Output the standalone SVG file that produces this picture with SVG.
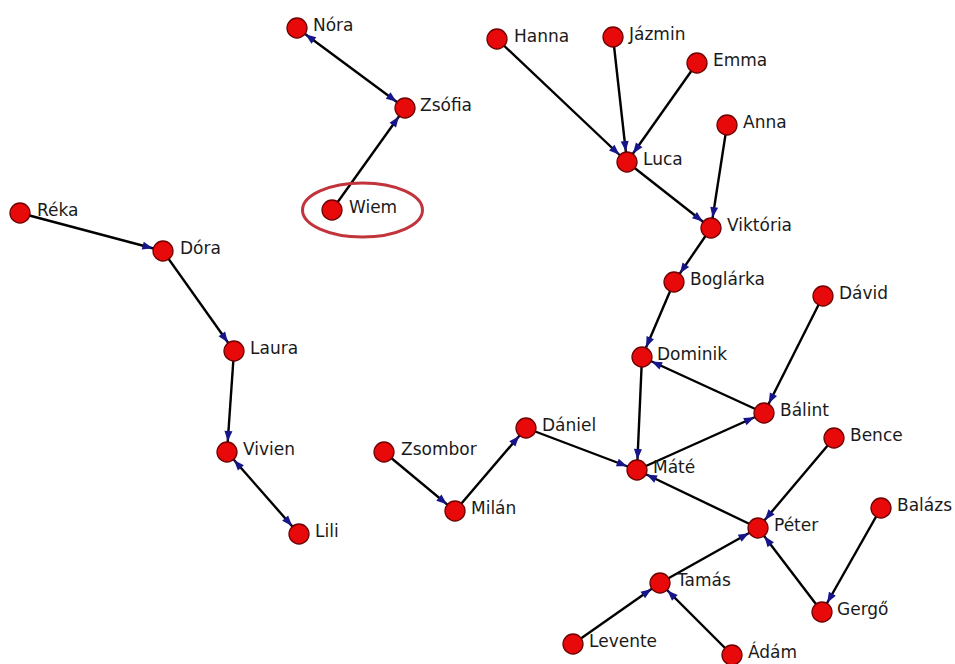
<svg xmlns="http://www.w3.org/2000/svg" width="955" height="664" viewBox="0 0 955 664">
<defs>
<style>
.bg{fill:#ffffff}
.e line{stroke:#000000;stroke-width:2.4;marker-end:url(#arr)}
.e line.bi{marker-start:url(#arr)}
.n circle{fill:#e8090b;stroke:#6e0000;stroke-width:1.3}
.n text{font-family:"DejaVu Sans",Verdana,sans-serif;font-size:17px;fill:#1a1a1a}
.hl{fill:none;stroke:#c2343c;stroke-width:3}
</style>
<marker id="arr" viewBox="-23 -5 25 10" refX="0" refY="0" markerWidth="25" markerHeight="10" markerUnits="userSpaceOnUse" orient="auto-start-reverse">
<path d="M-10.5,0 L-21,-4 L-21,4 Z" fill="#16168a"/>
</marker>
</defs>
<rect class="bg" x="0" y="0" width="955" height="664"/>
<g id="connectors" class="e">
<line class="bi" x1="297" y1="28" x2="405" y2="108"/>
<line x1="332" y1="210" x2="405" y2="108"/>
<line x1="20" y1="213" x2="163" y2="251"/>
<line x1="163" y1="251" x2="234" y2="351"/>
<line x1="234" y1="351" x2="227" y2="452"/>
<line class="bi" x1="227" y1="452" x2="299" y2="534"/>
<line x1="497" y1="39" x2="627" y2="162"/>
<line x1="613" y1="37" x2="627" y2="162"/>
<line x1="697" y1="63" x2="627" y2="162"/>
<line x1="627" y1="162" x2="711" y2="228"/>
<line x1="727" y1="125" x2="711" y2="228"/>
<line x1="711" y1="228" x2="674" y2="282"/>
<line x1="674" y1="282" x2="642" y2="357"/>
<line x1="642" y1="357" x2="637" y2="470"/>
<line x1="764" y1="413" x2="642" y2="357"/>
<line x1="823" y1="296" x2="764" y2="413"/>
<line x1="637" y1="470" x2="764" y2="413"/>
<line x1="384" y1="452" x2="455" y2="511"/>
<line x1="455" y1="511" x2="526" y2="428"/>
<line x1="526" y1="428" x2="637" y2="470"/>
<line x1="758" y1="528" x2="637" y2="470"/>
<line x1="834" y1="438" x2="758" y2="528"/>
<line x1="660" y1="583" x2="758" y2="528"/>
<line x1="822" y1="612" x2="758" y2="528"/>
<line x1="881" y1="508" x2="822" y2="612"/>
<line x1="573" y1="644" x2="660" y2="583"/>
<line x1="732" y1="655" x2="660" y2="583"/>
</g>
<ellipse class="hl" cx="362.5" cy="210" rx="60" ry="27"/>
<g id="n-nora" class="n"><circle cx="297" cy="28" r="10"/><text x="313" y="31">Nóra</text></g>
<g id="n-zsofia" class="n"><circle cx="405" cy="108" r="10"/><text x="420" y="111">Zsófia</text></g>
<g id="n-wiem" class="n"><circle cx="332" cy="210" r="10"/><text x="349" y="213">Wiem</text></g>
<g id="n-reka" class="n"><circle cx="20" cy="213" r="10"/><text x="37" y="216">Réka</text></g>
<g id="n-dora" class="n"><circle cx="163" cy="251" r="10"/><text x="180" y="254">Dóra</text></g>
<g id="n-laura" class="n"><circle cx="234" cy="351" r="10"/><text x="250" y="354">Laura</text></g>
<g id="n-vivien" class="n"><circle cx="227" cy="452" r="10"/><text x="243" y="455">Vivien</text></g>
<g id="n-lili" class="n"><circle cx="299" cy="534" r="10"/><text x="315" y="537">Lili</text></g>
<g id="n-hanna" class="n"><circle cx="497" cy="39" r="10"/><text x="514" y="42">Hanna</text></g>
<g id="n-jazmin" class="n"><circle cx="613" cy="37" r="10"/><text x="629" y="40">Jázmin</text></g>
<g id="n-emma" class="n"><circle cx="697" cy="63" r="10"/><text x="713" y="66">Emma</text></g>
<g id="n-anna" class="n"><circle cx="727" cy="125" r="10"/><text x="743" y="128">Anna</text></g>
<g id="n-luca" class="n"><circle cx="627" cy="162" r="10"/><text x="643" y="165">Luca</text></g>
<g id="n-viktoria" class="n"><circle cx="711" cy="228" r="10"/><text x="727" y="231">Viktória</text></g>
<g id="n-boglarka" class="n"><circle cx="674" cy="282" r="10"/><text x="690" y="285">Boglárka</text></g>
<g id="n-david" class="n"><circle cx="823" cy="296" r="10"/><text x="839" y="299">Dávid</text></g>
<g id="n-dominik" class="n"><circle cx="642" cy="357" r="10"/><text x="657" y="360">Dominik</text></g>
<g id="n-balint" class="n"><circle cx="764" cy="413" r="10"/><text x="780" y="416">Bálint</text></g>
<g id="n-zsombor" class="n"><circle cx="384" cy="452" r="10"/><text x="401" y="455">Zsombor</text></g>
<g id="n-daniel" class="n"><circle cx="526" cy="428" r="10"/><text x="542" y="431">Dániel</text></g>
<g id="n-milan" class="n"><circle cx="455" cy="511" r="10"/><text x="471" y="514">Milán</text></g>
<g id="n-mate" class="n"><circle cx="637" cy="470" r="10"/><text x="653" y="473">Máté</text></g>
<g id="n-bence" class="n"><circle cx="834" cy="438" r="10"/><text x="850" y="441">Bence</text></g>
<g id="n-balazs" class="n"><circle cx="881" cy="508" r="10"/><text x="897" y="511">Balázs</text></g>
<g id="n-peter" class="n"><circle cx="758" cy="528" r="10"/><text x="774" y="531">Péter</text></g>
<g id="n-tamas" class="n"><circle cx="660" cy="583" r="10"/><text x="677" y="586">Tamás</text></g>
<g id="n-gergo" class="n"><circle cx="822" cy="612" r="10"/><text x="837" y="615">Gergő</text></g>
<g id="n-levente" class="n"><circle cx="573" cy="644" r="10"/><text x="589" y="647">Levente</text></g>
<g id="n-adam" class="n"><circle cx="732" cy="655" r="10"/><text x="748" y="658">Ádám</text></g>
</svg>
